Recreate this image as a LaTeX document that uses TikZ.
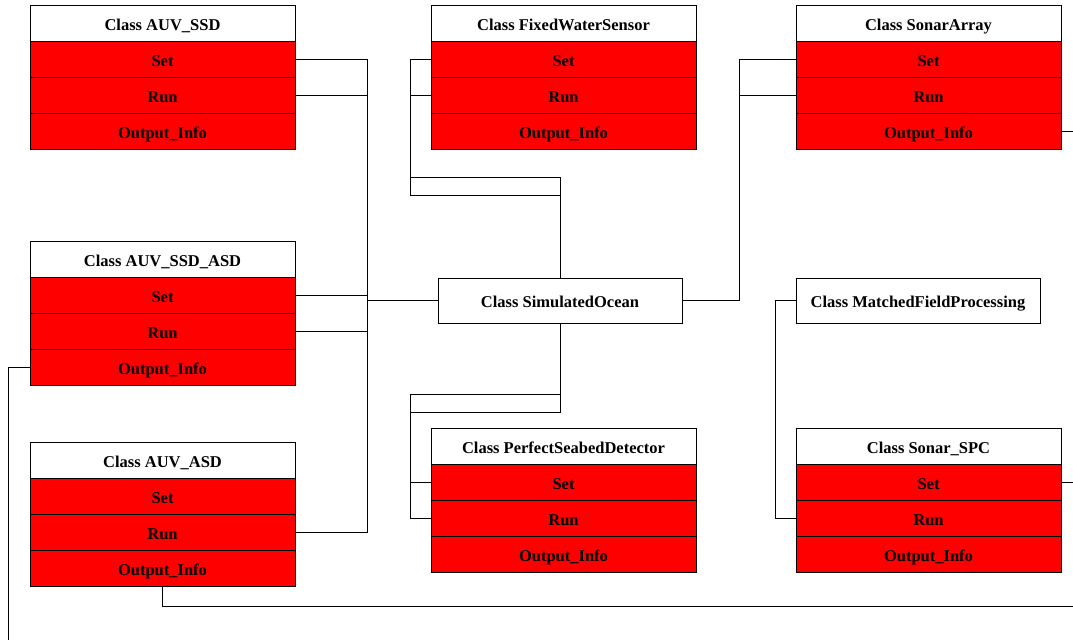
\documentclass[tikz,border=0pt]{standalone}
\usepackage{fontspec}
\setmainfont{Liberation Serif}
\usetikzlibrary{positioning}

% one class: header plus its three methods
\newcommand\classbox[4]{%
  \node[hdr, anchor=north] (#1-h) at (#2,#3) {Class #4};
  \node[meth, below=0pt of #1-h] (#1-set) {Set};
  \node[meth, below=0pt of #1-set] (#1-run) {Run};
  \node[meth, below=0pt of #1-run] (#1-out) {Output\_Info};
}

\tikzset{
  base/.style={draw=black, line width=0.8pt, inner sep=0pt, outer sep=0pt,
    text height=14.5pt, text depth=0pt,
    font=\fontsize{16.5}{18}\selectfont\bfseries},
  hdr/.style={base, fill=white, minimum width=265, minimum height=36},
  meth/.style={base, fill=red, minimum width=265, minimum height=36},
  solo/.style={base, fill=white, minimum width=244, minimum height=45},
  wire/.style={draw=black, line width=0.8pt}
}

\begin{document}
\begin{tikzpicture}[x=1pt, y=-1pt]
  \useasboundingbox (0,0) rectangle (1073,640);

  \classbox{ssd}{162.5}{5}{AUV\_SSD}
  \classbox{ssdasd}{162.5}{241}{AUV\_SSD\_ASD}
  \classbox{asd}{162.5}{442}{AUV\_ASD}
  \classbox{fws}{563.5}{5}{FixedWaterSensor}
  \classbox{psd}{563.5}{428}{PerfectSeabedDetector}
  \classbox{sa}{928.5}{5}{SonarArray}
  \classbox{spc}{928.5}{428}{Sonar\_SPC}

  \node[solo] (ocean) at (560,300.5) {Class SimulatedOcean};
  \node[solo] (mfp) at (918,300.5) {Class MatchedFieldProcessing};

  \coordinate (bus) at (367,300.5);
  \coordinate (saEnd) at (1073,131);
  \coordinate (spcEnd) at (1073,482);
  \coordinate (asdEnd) at (1073,606);
  \coordinate (ssdasdEnd) at (8,640);

  % AUV side into the ocean
  \draw[wire] (ssd-set.east) -| (bus) -- (ocean.west);
  \draw[wire] (ssd-run.east) -| (bus);
  \draw[wire] (ssdasd-set.east) -| (bus);
  \draw[wire] (ssdasd-run.east) -| (bus);
  \draw[wire] (asd-run.east) -| (bus);

  % fixed sensor and seabed detector
  \draw[wire] (fws-set.west) -| (410,195) -| (ocean.north);
  \draw[wire] (fws-run.west) -| (410,177) -| (ocean.north);
  \draw[wire] (ocean.south) |- (410,394) |- (psd-set.west);
  \draw[wire] (ocean.south) |- (410,412) |- (psd-run.west);

  % sonar array
  \draw[wire] (sa-set.west) -| (739,300.5) -- (ocean.east);
  \draw[wire] (sa-run.west) -| (739,300.5);

  \draw[wire] (mfp.west) -- ++(-21,0) |- (spc-run.west);

  % leaving the page
  \draw[wire] (sa-out.east) -- (saEnd);
  \draw[wire] (spc-set.east) -- (spcEnd);
  \draw[wire] (asd-out.south) |- (asdEnd);
  \draw[wire] (ssdasd-out.west) -| (ssdasdEnd);
\end{tikzpicture}
\end{document}
